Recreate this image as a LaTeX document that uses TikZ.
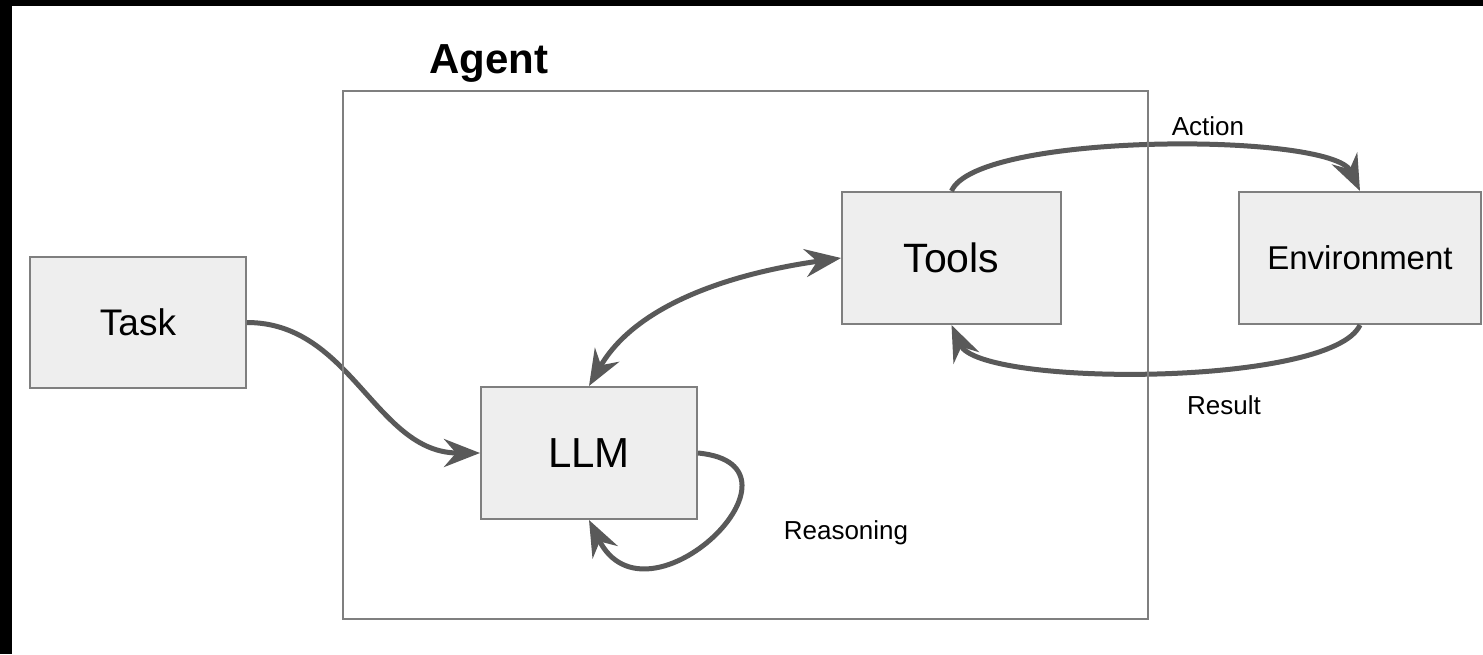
\documentclass[tikz,border=0pt]{standalone}
\usepackage{fontspec}
\setmainfont{Liberation Sans}
\usetikzlibrary{arrows.meta}
\definecolor{boxfill}{HTML}{EEEEEE}
\definecolor{boxline}{HTML}{7F7F7F}
\definecolor{flow}{HTML}{595959}
\begin{document}
\begin{tikzpicture}[x=1pt,y=1pt,
  block/.style={draw=boxline, line width=2pt, fill=boxfill, inner sep=0pt, text=black},
  flowarrow/.style={draw=flow, line width=5pt, -{Stealth[length=36pt,width=28pt,inset=12pt]}},
  caption/.style={font=\fontsize{26}{30}\selectfont, inner sep=0pt, text=black}
]
\useasboundingbox (0,0) rectangle (1483,-654);
\fill[white] (0,0) rectangle (1483,-654);
% dark strips along the top and left edges
\fill[black] (0,0) rectangle (1483,-6);
\fill[black] (0,0) rectangle (12,-654);

% blocks
\node[block, minimum width=216pt, minimum height=131pt, font=\fontsize{37}{44}\selectfont] (task) at (138,-322.5) {Task};
\node[block, minimum width=216pt, minimum height=132pt, font=\fontsize{42}{50}\selectfont] (llm) at (589,-453) {LLM};
\node[block, minimum width=219pt, minimum height=132pt, font=\fontsize{41}{49}\selectfont] (tools) at (951.5,-258) {Tools};
\node[block, minimum width=242pt, minimum height=132pt, font=\fontsize{33}{40}\selectfont] (env) at (1360,-258) {Environment};

% connectors
\draw[flowarrow] (task.east) to[out=0,in=180] (llm.west);
\draw[draw=flow, line width=5pt, {Stealth[length=36pt,width=28pt,inset=12pt]}-{Stealth[length=36pt,width=28pt,inset=12pt]}]
  (llm.north) to[out=60,in=188,looseness=0.9] (tools.west);
\draw[flowarrow] (tools.north) .. controls +(25,59) and +(-28,59) .. (env.north);
\draw[flowarrow] (env.south) .. controls +(-28,-62) and +(28,-62) .. (tools.south);
\draw[flowarrow] (llm.east) .. controls +(125,-12) and +(58,-116) .. (llm.south);

% edge labels
\node[caption] (action) at (1208,-126) {Action};
\node[caption] (result) at (1224,-405) {Result};
\node[caption] (reason) at (846,-533) {Reasoning};

% agent frame and title
\node[draw=boxline, line width=2pt, minimum width=805pt, minimum height=528pt, inner sep=0pt] (agent) at (745.5,-355) {};
\node[font=\fontsize{42}{50}\selectfont\bfseries, inner sep=0pt] (agenttitle) at (489,-63) {Agent};
\end{tikzpicture}
\end{document}
